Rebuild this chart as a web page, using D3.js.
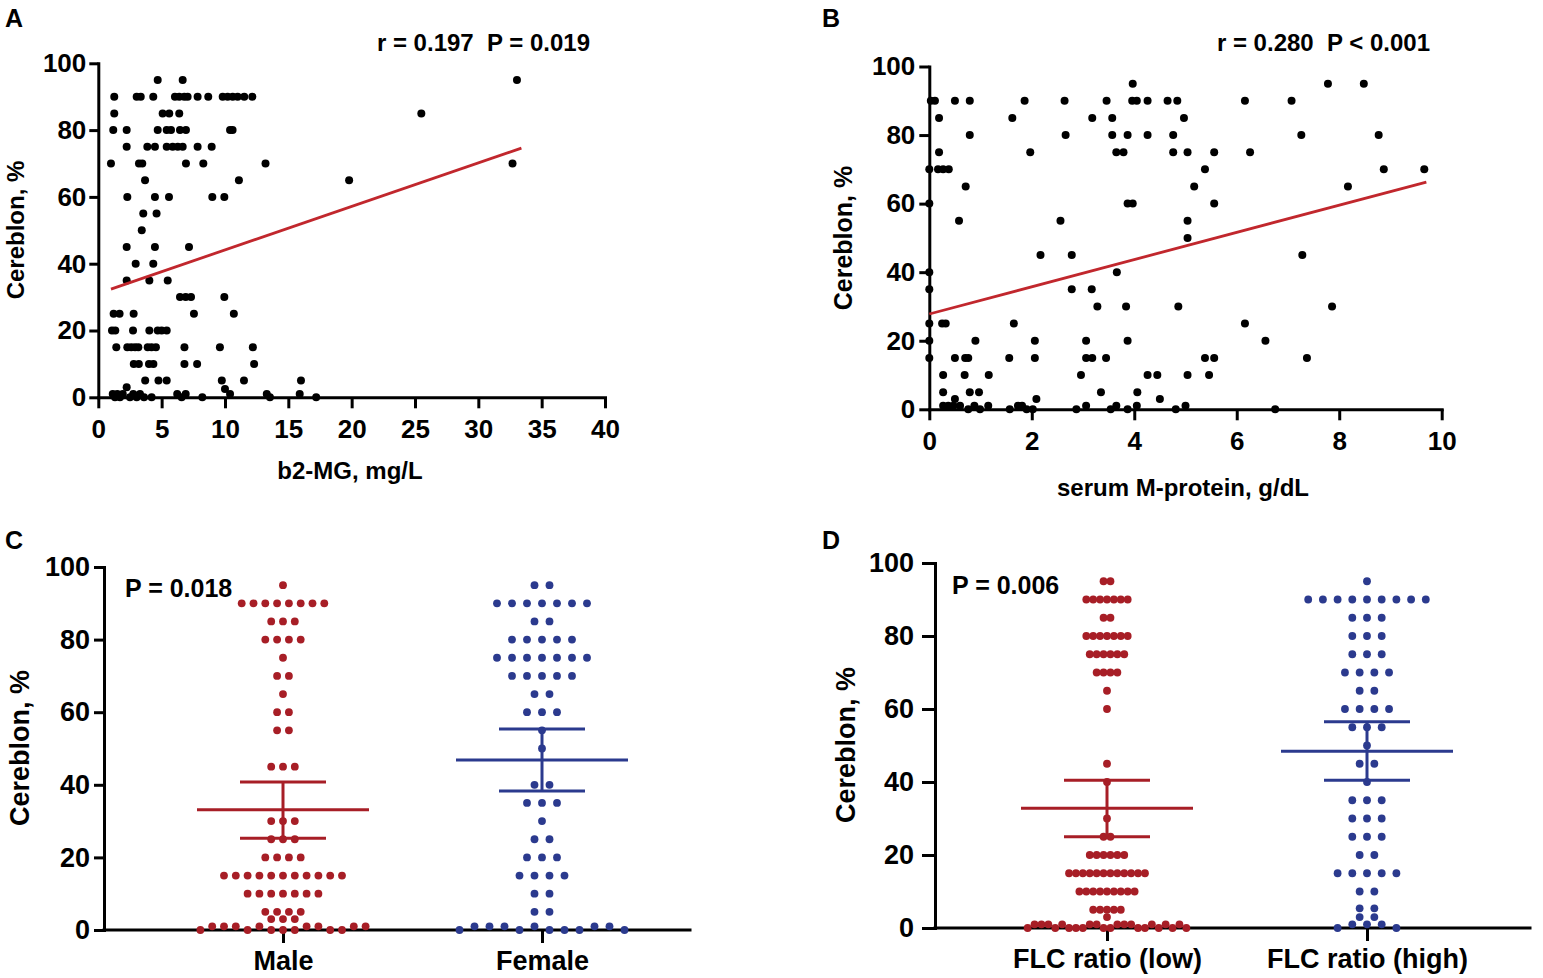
<!DOCTYPE html>
<html>
<head>
<meta charset="utf-8">
<script src="https://cdn.jsdelivr.net/npm/d3@7/dist/d3.min.js"></script>
<style>
  body { margin: 0; background: #fff; }
  svg { display: block; font-family: "Liberation Sans", Arial, sans-serif; font-weight: bold; }
</style>
</head>
<body>
<svg id="chart" width="1543" height="978"></svg>
<script>
// ---------------- DATA ----------------
// Panel A: b2-MG (mg/L) vs Cereblon (%)
const b2mg = [
  4.69, 6.66, 33.05,
  1.26, 3.03, 3.35, 4.34, 6.05, 6.39, 6.79, 7.05, 7.84, 8.68, 9.82, 10.21, 10.61, 11.0, 11.52, 12.16,
  1.26, 5.08, 5.6, 6.39, 25.5,
  1.18, 2.24, 4.69, 5.4, 5.74, 6.45, 6.92, 10.4, 10.6,
  2.24, 3.87, 4.47, 5.4, 5.87, 6.27, 6.66, 7.84, 8.95,
  1.0, 3.21, 3.47, 6.92, 8.29, 13.2, 32.7,
  3.69, 11.1, 19.8,
  2.29, 4.47, 5.58, 9.0, 9.95,
  3.55, 4.6,
  3.43,
  2.24, 4.47, 7.16,
  2.95, 4.34,
  2.24, 4.03, 5.48,
  6.45, 6.9, 7.32, 9.95,
  1.21, 1.68, 2.79, 7.55, 10.7,
  1.08, 1.34, 2.74, 4.03, 4.69, 5.0, 5.4,
  1.42, 2.29, 2.6, 2.9, 3.16, 3.9, 4.2, 4.55, 6.8, 9.6, 12.2,
  2.8, 3.2, 4.0, 4.35, 6.8, 7.8, 12.3,
  3.7, 4.75, 5.4, 9.75, 11.5, 16.0,
  2.24, 10.0,
  1.14, 1.32, 1.5, 1.71, 1.93, 2.5, 2.76, 3.03, 3.29, 3.61, 4.21, 6.23, 6.58, 6.9, 8.21, 10.4, 13.3, 13.55, 15.9, 17.2
];
const cereblonA = [
  95, 95, 95,
  90, 90, 90, 90, 90, 90, 90, 90, 90, 90, 90, 90, 90, 90, 90, 90,
  85, 85, 85, 85, 85,
  80, 80, 80, 80, 80, 80, 80, 80, 80,
  75, 75, 75, 75, 75, 75, 75, 75, 75,
  70, 70, 70, 70, 70, 70, 70,
  65, 65, 65,
  60, 60, 60, 60, 60,
  55, 55,
  50,
  45, 45, 45,
  40, 40,
  35, 35, 35,
  30, 30, 30, 30,
  25, 25, 25, 25, 25,
  20, 20, 20, 20, 20, 20, 20,
  15, 15, 15, 15, 15, 15, 15, 15, 15, 15, 15,
  10, 10, 10, 10, 10, 10, 10,
  5, 5, 5, 5, 5, 5,
  3, 2.5,
  1, 0, 1, 0, 1, 0, 1, 0, 1, 0, 0, 1, 0, 1, 0, 1, 1, 0, 1, 0
];
const fitA = [[1.0, 32.4], [33.4, 74.6]];

// Panel B: serum M-protein (g/dL) vs Cereblon (%)
const mprotein = [
  3.97, 7.78, 8.48,
  0.03, 0.11, 0.5, 0.79, 1.86, 2.64, 3.46, 3.96, 4.05, 4.26, 4.65, 4.84, 6.16, 7.07,
  0.19, 1.62, 3.18, 3.57, 4.97,
  0.79, 2.66, 3.57, 3.87, 4.26, 4.76, 7.26, 8.77,
  0.19, 1.97, 3.65, 3.79, 4.76, 5.04, 5.56, 6.26,
  0.0, 0.17, 0.27, 0.38, 5.38, 8.87, 9.66,
  0.71, 5.17, 8.17,
  0.0, 3.87, 3.97, 5.56,
  0.58, 2.56, 5.04,
  5.04,
  2.17, 2.78, 7.28,
  0.0, 3.66,
  0.0, 2.78, 3.17,
  3.28, 3.84, 4.86, 7.86,
  0.0, 0.25, 0.32, 1.65, 6.16,
  0.0, 0.9, 2.06, 3.06, 3.87, 6.56,
  0.0, 0.5, 0.7, 0.76, 1.56, 2.06, 3.06, 3.18, 3.45, 5.38, 5.56, 7.37,
  0.27, 0.69, 1.16, 2.96, 4.26, 4.45, 5.04, 5.46,
  0.27, 0.79, 0.97, 3.35, 4.06,
  0.5, 2.09, 4.5,
  0.27, 0.37, 0.47, 0.6, 0.76, 0.88, 0.99, 1.15, 1.57, 1.73, 1.81, 1.9, 2.02, 2.87, 3.06, 3.54, 3.65, 3.87, 4.05, 4.81, 5.0, 6.75
];
const cereblonB = [
  95, 95, 95,
  90, 90, 90, 90, 90, 90, 90, 90, 90, 90, 90, 90, 90, 90,
  85, 85, 85, 85, 85,
  80, 80, 80, 80, 80, 80, 80, 80,
  75, 75, 75, 75, 75, 75, 75, 75,
  70, 70, 70, 70, 70, 70, 70,
  65, 65, 65,
  60, 60, 60, 60,
  55, 55, 55,
  50,
  45, 45, 45,
  40, 40,
  35, 35, 35,
  30, 30, 30, 30,
  25, 25, 25, 25, 25,
  20, 20, 20, 20, 20, 20,
  15, 15, 15, 15, 15, 15, 15, 15, 15, 15, 15, 15,
  10, 10, 10, 10, 10, 10, 10, 10,
  5, 5, 5, 5, 5,
  3, 3, 3,
  1, 1, 1, 1, 0, 1, 0, 1, 0, 1, 1, 0, 0, 0, 1, 0, 1, 0, 1, 0, 1, 0
];
const fitB = [[0.0, 27.8], [9.7, 66.3]];

// Panel C: Cereblon (%) by sex
const sexCategories = ["Male", "Female"];
const maleValues = [
  95,
  90, 90, 90, 90, 90, 90, 90, 90,
  85, 85, 85,
  80, 80, 80, 80,
  75,
  70, 70,
  65,
  60, 60,
  55, 55,
  45, 45, 45,
  30, 30, 30,
  25, 25, 25,
  20, 20, 20, 20,
  15, 15, 15, 15, 15, 15, 15, 15, 15, 15, 15,
  10, 10, 10, 10, 10, 10, 10,
  5, 5, 5, 5,
  3, 3, 3,
  0, 1, 1, 1, 0, 1, 0, 0, 0, 1, 1, 0, 0, 1, 1
];
const femaleValues = [
  95, 95,
  90, 90, 90, 90, 90, 90, 90,
  85, 85,
  80, 80, 80, 80, 80,
  75, 75, 75, 75, 75, 75, 75,
  70, 70, 70, 70, 70,
  65, 65,
  60, 60, 60,
  55,
  50,
  40, 40,
  35, 35, 35,
  30,
  25, 25,
  20, 20, 20,
  15, 15, 15, 15,
  10, 10,
  5, 5,
  0, 1, 1, 1, 0, 1, 0, 0, 0, 1, 1, 0
];
const sexMean = [33.1, 46.8];
const sexLower = [25.3, 38.3];
const sexUpper = [40.8, 55.4];

// Panel D: Cereblon (%) by FLC ratio
const flcCategories = ["FLC ratio (low)", "FLC ratio (high)"];
const flcLowValues = [
  95, 95,
  90, 90, 90, 90, 90, 90, 90,
  85, 85,
  80, 80, 80, 80, 80, 80, 80,
  75, 75, 75, 75, 75, 75,
  70, 70, 70, 70,
  65,
  60,
  45,
  40,
  30,
  25, 25,
  20, 20, 20, 20, 20, 20,
  15, 15, 15, 15, 15, 15, 15, 15, 15, 15, 15, 15,
  10, 10, 10, 10, 10, 10, 10, 10, 10,
  5, 5, 5, 5, 5,
  3,
  0, 1, 1, 1, 0, 1, 0, 0, 0, 1, 1, 0, 0, 1, 1, 1, 0, 0, 1, 0, 1, 0, 1, 0
];
const flcHighValues = [
  95,
  90, 90, 90, 90, 90, 90, 90, 90, 90,
  85, 85, 85,
  80, 80, 80,
  75, 75, 75,
  70, 70, 70, 70,
  65, 65,
  60, 60, 60, 60,
  55, 55, 55,
  50,
  45, 45,
  40,
  35, 35, 35,
  30, 30, 30,
  25, 25, 25,
  20, 20,
  15, 15, 15, 15, 15,
  10, 10,
  5.4, 5.4,
  3, 3,
  0, 1, 1, 1, 0
];
const flcMean = [32.8, 48.4];
const flcLower = [25.0, 40.5];
const flcUpper = [40.5, 56.5];

const yTicks = [0, 20, 40, 60, 80, 100];
const xTicksA = [0, 5, 10, 15, 20, 25, 30, 35, 40];
const xTicksB = [0, 2, 4, 6, 8, 10];

// ---------------- STYLE ----------------
const RED = "#a71e26";
const BLUE = "#2b3a8e";
const FIT = "#c1272d";
const svg = d3.select("#chart");

function styleAxis(g, fs) {
  g.selectAll("path.domain").attr("stroke", "#000").attr("stroke-width", 3).attr("stroke-linecap", "square");
  g.selectAll(".tick line").attr("stroke", "#000").attr("stroke-width", 3);
  g.selectAll(".tick text").attr("fill", "#000").style("font-size", fs + "px")
    .style("font-weight", "bold").style("font-family", '"Liberation Sans", Arial, sans-serif');
}

function text(x, y, s, fs, anchor, rot) {
  const t = svg.append("text").attr("x", x).attr("y", y).text(s)
    .style("font-size", fs + "px").attr("text-anchor", anchor || "start").attr("fill", "#000")
    .style("white-space", "pre");
  if (rot) t.attr("transform", `rotate(${rot},${x},${y})`);
  return t;
}

// ---------------- SCATTER PANELS ----------------
function scatter(cfg) {
  const x = d3.scaleLinear().domain(cfg.xDomain).range([cfg.x0, cfg.x1]);
  const y = d3.scaleLinear().domain([0, 100]).range([cfg.y0, cfg.y1]);
  const gx = svg.append("g").attr("transform", `translate(0,${cfg.y0})`)
    .call(d3.axisBottom(x).tickValues(cfg.xTicks).tickSize(11).tickSizeOuter(0).tickPadding(cfg.xPad));
  styleAxis(gx, cfg.fs);
  const gy = svg.append("g").attr("transform", `translate(${cfg.x0},0)`)
    .call(d3.axisLeft(y).tickValues(yTicks).tickSize(cfg.yTick).tickSizeOuter(0).tickPadding(cfg.yPad));
  styleAxis(gy, cfg.fs);
  const pts = cfg.xs.map((v, i) => [v, cfg.ys[i]]);
  svg.append("g").selectAll("circle").data(pts).join("circle")
    .attr("cx", d => x(d[0])).attr("cy", d => y(d[1])).attr("r", 4).attr("fill", "#000");
  svg.append("line")
    .attr("x1", x(cfg.fit[0][0])).attr("y1", y(cfg.fit[0][1]))
    .attr("x2", x(cfg.fit[1][0])).attr("y2", y(cfg.fit[1][1]))
    .attr("stroke", FIT).attr("stroke-width", 2.8);
}

scatter({ xDomain: [0, 40], x0: 98.3, x1: 605, y0: 397.3, y1: 63.3, xTicks: xTicksA,
  xs: b2mg, ys: cereblonA, fit: fitA, fs: 26, xPad: 11, yTick: 9, yPad: 3 });
scatter({ xDomain: [0, 10], x0: 929.3, x1: 1441.7, y0: 409.3, y1: 66.5, xTicks: xTicksB,
  xs: mprotein, ys: cereblonB, fit: fitB, fs: 26, xPad: 11, yTick: 10, yPad: 4 });

// ---------------- DOT PLOT PANELS ----------------
function dotplot(cfg) {
  const y = d3.scaleLinear().domain([0, 100]).range([cfg.y0, cfg.y1]);
  const x = d3.scalePoint().domain(cfg.cats).range([cfg.c0, cfg.c1]);
  svg.append("line").attr("x1", cfg.x0).attr("x2", cfg.xEnd).attr("y1", cfg.y0).attr("y2", cfg.y0)
    .attr("stroke", "#000").attr("stroke-width", 3).attr("stroke-linecap", "square");
  const gx = svg.append("g").attr("transform", `translate(0,${cfg.y0})`)
    .call(d3.axisBottom(x).tickSize(13).tickSizeOuter(0).tickPadding(8));
  gx.select("path.domain").remove();
  styleAxis(gx, 27);
  const gy = svg.append("g").attr("transform", `translate(${cfg.x0},0)`)
    .call(d3.axisLeft(y).tickValues(yTicks).tickSize(cfg.yTick).tickSizeOuter(0).tickPadding(cfg.yPad));
  styleAxis(gy, 27);

  cfg.groups.forEach((vals, gi) => {
    const cx = x(cfg.cats[gi]);
    const rows = d3.group(vals, v => (v <= 1 ? 0 : v));
    const pts = [];
    rows.forEach(rv => {
      rv.forEach((v, i) => pts.push([cx + (i - (rv.length - 1) / 2) * cfg.spacing[gi], y(v)]));
    });
    const col = cfg.colors[gi];
    svg.append("g").selectAll("circle").data(pts).join("circle")
      .attr("cx", d => d[0]).attr("cy", d => d[1]).attr("r", 3.9).attr("fill", col);
    const g = svg.append("g").attr("stroke", col).attr("stroke-width", 3);
    g.append("line").attr("x1", cx - 86).attr("x2", cx + 86)
      .attr("y1", y(cfg.mean[gi])).attr("y2", y(cfg.mean[gi]));
    g.append("line").attr("x1", cx - 43).attr("x2", cx + 43)
      .attr("y1", y(cfg.upper[gi])).attr("y2", y(cfg.upper[gi]));
    g.append("line").attr("x1", cx - 43).attr("x2", cx + 43)
      .attr("y1", y(cfg.lower[gi])).attr("y2", y(cfg.lower[gi]));
    g.append("line").attr("x1", cx).attr("x2", cx)
      .attr("y1", y(cfg.upper[gi])).attr("y2", y(cfg.lower[gi]));
  });
}

dotplot({ cats: sexCategories, groups: [maleValues, femaleValues], colors: [RED, BLUE],
  spacing: [11.8, 15], mean: sexMean, lower: sexLower, upper: sexUpper,
  x0: 104, xEnd: 690, y0: 930, y1: 567, c0: 283, c1: 542, yTick: 10, yPad: 4 });
dotplot({ cats: flcCategories, groups: [flcLowValues, flcHighValues], colors: [RED, BLUE],
  spacing: [6.9, 14.7], mean: flcMean, lower: flcLower, upper: flcUpper,
  x0: 935, xEnd: 1530, y0: 928, y1: 563, c0: 1107, c1: 1367, yTick: 13, yPad: 8 });

// ---------------- TEXT ----------------
text(5, 27, "A", 25);
text(822, 27, "B", 25);
text(5, 549, "C", 25);
text(822, 549, "D", 25);
text(590, 51, "r = 0.197  P = 0.019", 24, "end");
text(1430, 51, "r = 0.280  P < 0.001", 24, "end");
text(125, 597, "P = 0.018", 25);
text(952, 594, "P = 0.006", 25);
text(24, 230, "Cereblon, %", 24, "middle", -90);
text(852, 238, "Cereblon, %", 25, "middle", -90);
text(29, 748, "Cereblon, %", 27, "middle", -90);
text(855, 745, "Cereblon, %", 27, "middle", -90);
text(350, 479, "b2-MG, mg/L", 24, "middle");
text(1183, 496, "serum M-protein, g/dL", 24, "middle");
</script>
</body>
</html>
